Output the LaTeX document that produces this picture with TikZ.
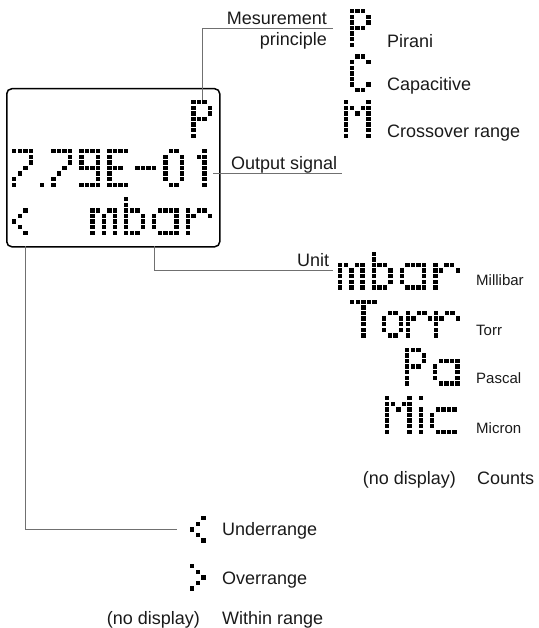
\documentclass[tikz,border=0pt]{standalone}
\usepackage{fontspec}
\setmainfont{Liberation Sans}
\definecolor{dotc}{HTML}{000000}
\definecolor{txtc}{HTML}{1A1A1A}
\definecolor{linec}{HTML}{707070}
% dot-matrix glyphs: col/row, row 0 = top of a 7-row cell
\def\GlSeven{0/0,1/0,2/0,3/0,3/1,3/2,2/3,1/4,0/5,0/6}
\def\GlDot{0/6}
\def\GlNine{0/0,1/0,2/0,3/0,0/1,3/1,0/2,3/2,0/3,1/3,2/3,3/3,3/4,3/5,0/6,1/6,2/6,3/6}
\def\GlE{0/0,1/0,2/0,3/0,0/1,0/2,0/3,1/3,2/3,0/4,0/5,0/6,1/6,2/6,3/6}
\def\GlMinus{0/3,1/3,2/3,3/3}
\def\GlZero{1/0,2/0,0/1,3/1,0/2,3/2,0/3,3/3,0/4,3/4,0/5,3/5,1/6,2/6}
\def\GlOne{1/0,0/1,1/1,1/2,1/3,1/4,1/5,1/6}
\def\GlP{0/0,1/0,2/0,0/1,3/1,0/2,3/2,0/3,1/3,2/3,0/4,0/5,0/6}
\def\GlC{1/0,2/0,0/1,3/1,0/2,0/3,0/4,0/5,3/5,1/6,2/6}
\def\GlM{0/0,0/1,0/2,0/3,0/4,0/5,0/6,4/0,4/1,4/2,4/3,4/4,4/5,4/6,1/1,3/1,2/2}
\def\GlT{0/0,1/0,2/0,3/0,4/0,2/1,2/2,2/3,2/4,2/5,2/6}
\def\GlLt{2/0,1/1,0/2,1/3,2/4}
\def\GlGt{0/0,1/1,2/2,1/3,0/4}
\def\Glm{0/2,1/2,3/2,4/2,0/3,2/3,4/3,0/4,2/4,4/4,0/5,2/5,4/5,0/6,2/6,4/6}
\def\Glb{0/0,0/1,0/2,0/3,0/4,0/5,0/6,1/2,2/2,3/3,3/4,3/5,1/6,2/6}
\def\Gla{1/2,2/2,3/2,4/2,0/3,0/4,0/5,4/3,4/4,4/5,4/6,1/6,2/6,3/6}
\def\Glr{0/2,0/3,0/4,0/5,0/6,2/2,3/2,1/3,4/3}
\def\Glo{1/2,2/2,0/3,0/4,0/5,3/3,3/4,3/5,1/6,2/6}
\def\Gli{0/0,0/2,0/3,0/4,0/5,0/6}
\def\Glc{1/2,2/2,3/2,4/2,0/3,0/4,0/5,1/6,2/6,3/6,4/6}
\newcommand\dmglyph[3]{\foreach \gc/\gr in #3 {\fill[dotfill] ({#1+\gc*5.6},{#2+\gr*5.6}) rectangle ++(4.4,4.4);}}
\begin{document}
\begin{tikzpicture}[x=1pt,y=-1pt,
  lab/.style={inner sep=0pt,text=txtc,font=\fontsize{18}{21}\selectfont},
  labs/.style={inner sep=0pt,text=txtc,font=\fontsize{15}{17}\selectfont},
  conn/.style={draw=linec,line width=0.9pt},
  dotfill/.style={fill=dotc},
  gbox/.style={inner sep=0pt,minimum width=21.2pt,minimum height=38pt,anchor=north west}]
\useasboundingbox (0,0) rectangle (538,628);
% display
\node[draw=black,line width=1.5pt,rounded corners=5pt,minimum width=213pt,minimum height=158pt,anchor=north west,inner sep=0pt] (disp) at (6,88) {};
\node[gbox] (dP) at (191.2,100) {};
\dmglyph{191.2}{100}{\GlP}
\dmglyph{12}{149}{\GlSeven}
\dmglyph{40}{149}{\GlDot}
\dmglyph{51.2}{149}{\GlSeven}
\dmglyph{79.2}{149}{\GlNine}
\dmglyph{107.2}{149}{\GlE}
\dmglyph{135.2}{149}{\GlMinus}
\dmglyph{163.2}{149}{\GlZero}
\dmglyph{196.8}{149}{\GlOne}
\dmglyph{12}{208.2}{\GlLt}
\dmglyph{90.4}{197}{\Glm}
\dmglyph{124}{197}{\Glb}
\dmglyph{152}{197}{\Gla}
\dmglyph{185.6}{197}{\Glr}
% principle glyphs
\dmglyph{349.6}{9}{\GlP}
\dmglyph{349.6}{54.5}{\GlC}
\dmglyph{344}{100}{\GlM}
% unit glyphs
\dmglyph{338}{251.5}{\Glm}
\dmglyph{371.6}{251.5}{\Glb}
\dmglyph{399.6}{251.5}{\Gla}
\dmglyph{433.2}{251.5}{\Glr}
\dmglyph{350}{299.5}{\GlT}
\dmglyph{382}{299.5}{\Glo}
\dmglyph{405.6}{299.5}{\Glr}
\dmglyph{433.6}{299.5}{\Glr}
\dmglyph{405}{347.5}{\GlP}
\dmglyph{433}{347.5}{\Gla}
\dmglyph{385}{396}{\GlM}
\dmglyph{418.6}{396}{\Gli}
\dmglyph{430}{396}{\Glc}
% range glyphs
\node[inner sep=0pt,minimum width=15.6pt,minimum height=26.8pt,anchor=north west] (ulg) at (190,516) {};
\dmglyph{190}{516}{\GlLt}
\dmglyph{190}{564}{\GlGt}
% labels
\node[lab,anchor=base east] (mes) at (327,25) {Mesurement};
\node[lab,anchor=base east] (pri) at (327,45.5) {principle};
\node[lab,anchor=base west] (pir) at (387,48) {Pirani};
\node[lab,anchor=base west] (cap) at (387,91) {Capacitive};
\node[lab,anchor=base west] (cro) at (387,138) {Crossover range};
\node[lab,anchor=base west] (out) at (231,170) {Output signal};
\node[lab,anchor=base west] (unit) at (297,266) {Unit};
\node[labs,anchor=base west] (mil) at (476,285.5) {Millibar};
\node[labs,anchor=base west] (tor) at (476,335) {Torr};
\node[labs,anchor=base west] (pas) at (476,383.5) {Pascal};
\node[labs,anchor=base west] (mic) at (476,433) {Micron};
\node[lab,anchor=base east] (nd1) at (456,484) {(no display)};
\node[lab,anchor=base west] (cnt) at (477,484) {Counts};
\node[lab,anchor=base west] (und) at (222,535) {Underrange};
\node[lab,anchor=base west] (ovr) at (222,584) {Overrange};
\node[lab,anchor=base east] (nd2) at (200,624) {(no display)};
\node[lab,anchor=base west] (win) at (222,624) {Within range};
% connectors
\coordinate (measend) at (333,28);
\coordinate (outstart) at (213,173);
\coordinate (outend) at (342,173);
\coordinate (unitfoot) at (154.2,246);
\coordinate (unitend) at (333,270);
\coordinate (rngfoot) at (25,246);
\draw[conn] (dP.north) |- (measend);
\draw[conn] (outstart) -- (outend);
\draw[conn] (unitfoot) |- (unitend);
\draw[conn] (rngfoot) |- ([xshift=-13pt]ulg.west);
\end{tikzpicture}
\end{document}
